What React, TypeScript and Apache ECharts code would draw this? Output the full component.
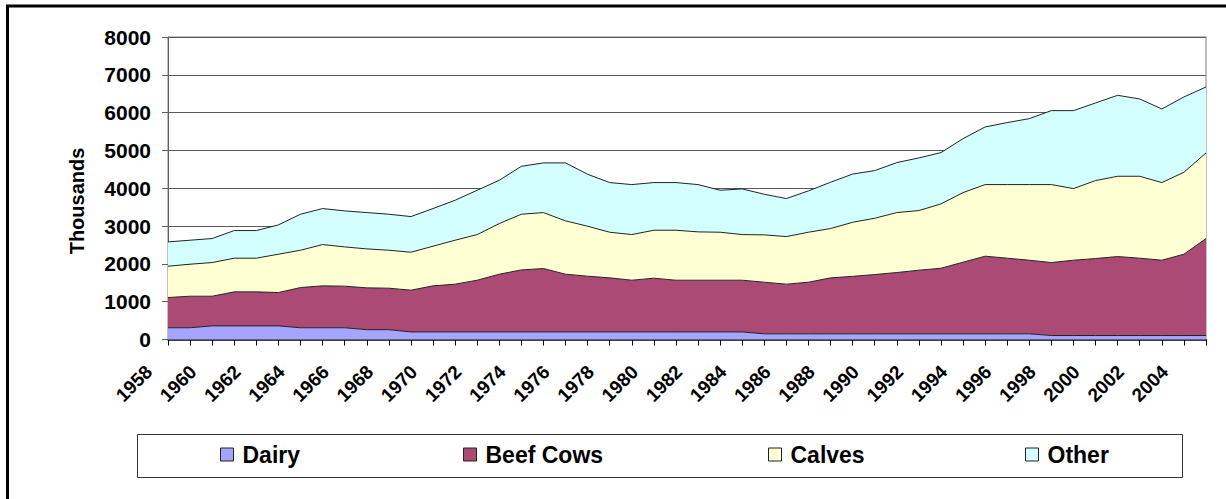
import React, { useEffect, useRef } from "react";
import * as echarts from "echarts";

const years = [
  "1958","1959","1960","1961","1962","1963","1964","1965","1966","1967",
  "1968","1969","1970","1971","1972","1973","1974","1975","1976","1977",
  "1978","1979","1980","1981","1982","1983","1984","1985","1986","1987",
  "1988","1989","1990","1991","1992","1993","1994","1995","1996","1997",
  "1998","1999","2000","2001","2002","2003","2004","2005",
];

const dairy = [
  310, 310, 360, 360, 360, 360, 310, 310, 310, 260,
  260, 200, 200, 200, 200, 200, 200, 200, 200, 200,
  200, 200, 200, 200, 200, 200, 200, 150, 150, 150,
  150, 150, 150, 150, 150, 150, 150, 150, 150, 150,
  105, 105, 105, 105, 105, 105, 105, 105,
];

const beefCows = [
  800, 835, 785, 900, 900, 882, 1064, 1109, 1100, 1106,
  1097, 1104, 1219, 1263, 1368, 1527, 1640, 1677, 1527, 1474,
  1430, 1368, 1421, 1368, 1368, 1368, 1368, 1365, 1313, 1365,
  1480, 1520, 1568, 1621, 1683, 1735, 1894, 2053, 2000, 1947,
  1930, 1992, 2036, 2089, 2045, 1992, 2151, 2565,
];

const calves = [
  828, 846, 890, 890, 890, 1014, 987, 1092, 1039, 1030,
  1004, 1004, 1048, 1163, 1207, 1339, 1473, 1480, 1410, 1322,
  1207, 1207, 1269, 1322, 1278, 1269, 1207, 1252, 1259, 1322,
  1304, 1430, 1489, 1586, 1577, 1701, 1841, 1894, 1947, 2000,
  2062, 1894, 2062, 2123, 2167, 2053, 2167, 2264,
];

const other = [
  643, 635, 635, 731, 731, 775, 952, 952, 952, 961,
  952, 943, 996, 1057, 1172, 1145, 1268, 1313, 1533, 1374,
  1313, 1322, 1260, 1260, 1251, 1110, 1207, 1074, 1005, 1093,
  1225, 1275, 1260, 1321, 1392, 1357, 1428, 1524, 1639, 1744,
  1956, 2062, 2053, 2141, 2044, 1947, 1991, 1744,
];

const seriesNames = ["Dairy", "Beef Cows", "Calves", "Other"];
const seriesColors = ["#A5A5FF", "#AA4A75", "#FFFFD4", "#D4FFFF"];
const seriesData = [dairy, beefCows, calves, other];
const legendLefts = [220, 463, 768, 1025];

const FONT = "'Liberation Sans', Arial, sans-serif";

export default function App() {
  const ref = useRef<HTMLDivElement>(null);

  useEffect(() => {
    if (!ref.current) return;
    const chart = echarts.init(ref.current, null, { renderer: "svg" });
    chart.setOption({
      animation: false,
      backgroundColor: "#ffffff",
      textStyle: { fontFamily: FONT },
      grid: {
        left: 168,
        top: 37,
        width: 1038,
        height: 302.5,
        show: true,
        borderColor: "#808080",
        borderWidth: 1,
        backgroundColor: "transparent",
      },
      xAxis: {
        type: "category",
        data: years,
        boundaryGap: false,
        axisLine: { show: true, lineStyle: { color: "#000", width: 1.5 } },
        axisTick: {
          show: true,
          interval: 0,
          length: 6,
          lineStyle: { color: "#000", width: 1 },
        },
        axisLabel: {
          interval: 1,
          rotate: 45,
          margin: 10,
          padding: [0, 27, 0, 0],
          color: "#000",
          fontSize: 19,
          fontWeight: "bold",
          fontFamily: FONT,
        },
        splitLine: { show: false },
      },
      yAxis: {
        type: "value",
        min: 0,
        max: 8000,
        interval: 1000,
        axisLine: { show: true, lineStyle: { color: "#606060", width: 1 } },
        axisTick: { show: true, length: 6, lineStyle: { color: "#606060" } },
        axisLabel: {
          margin: 17,
          color: "#000",
          fontSize: 21,
          fontWeight: "bold",
          fontFamily: FONT,
          formatter: (v: number) => String(v),
        },
        splitLine: { show: true, lineStyle: { color: "#5a5a5a", width: 1 } },
      },
      legend: seriesNames.map((name, i) => ({
        data: [name],
        left: legendLefts[i],
        top: 443,
        padding: 0,
        icon: "rect",
        itemWidth: 13,
        itemHeight: 13,
        selectedMode: false,
        itemStyle: { borderColor: "#222", borderWidth: 1 },
        textStyle: {
          color: "#000",
          fontSize: 23,
          fontWeight: "bold",
          fontFamily: FONT,
          padding: [0, 0, 0, 4],
        },
      })),
      graphic: [
        {
          type: "rect",
          shape: { x: 137.5, y: 434.5, width: 1045, height: 43 },
          style: { fill: "none", stroke: "#333", lineWidth: 1 },
          silent: true,
        },
        {
          type: "line",
          shape: { x1: 7.5, y1: 6, x2: 7.5, y2: 499 },
          style: { stroke: "#000", lineWidth: 3 },
          silent: true,
        },
        {
          type: "line",
          shape: { x1: 6, y1: 6, x2: 1226, y2: 6 },
          style: { stroke: "#000", lineWidth: 3 },
          silent: true,
        },
        {
          type: "text",
          x: 77,
          y: 201,
          rotation: Math.PI / 2,
          style: {
            text: "Thousands",
            fill: "#000",
            font: `bold 20px ${FONT}`,
            textAlign: "center",
            textVerticalAlign: "middle",
          },
          silent: true,
        },
      ],
      series: seriesNames.map((name, i) => ({
        name,
        type: "line",
        stack: "total",
        data: seriesData[i],
        symbol: "none",
        showSymbol: false,
        smooth: false,
        itemStyle: { color: seriesColors[i] },
        lineStyle: { color: "#222", width: 1 },
        areaStyle: { color: seriesColors[i], opacity: 1 },
        emphasis: { disabled: true },
      })),
    });
    return () => chart.dispose();
  }, []);

  return (
    <div
      ref={ref}
      style={{
        position: "absolute",
        left: 0,
        top: 0,
        width: 1226,
        height: 499,
        background: "#fff",
      }}
    />
  );
}
